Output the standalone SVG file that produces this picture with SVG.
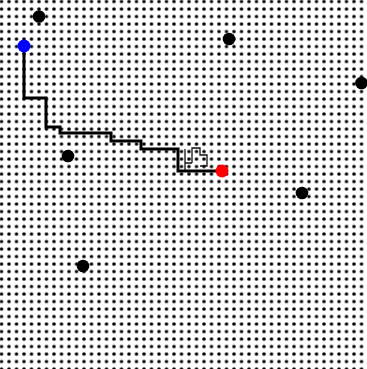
<svg xmlns="http://www.w3.org/2000/svg" width="367" height="369" viewBox="0 0 367 369">
  <defs>
    <pattern id="dots" x="5.25" y="-2.25" width="7.5" height="7.5" patternUnits="userSpaceOnUse">
      <circle cx="3.75" cy="3.75" r="1.75" fill="#000"/>
    </pattern>
    <style>
      .obs { fill: #000; }
      .route { fill: none; stroke: #000; stroke-width: 3; stroke-linejoin: miter; stroke-linecap: square; }
      .tree { fill: none; stroke: #111; stroke-width: 1.3; }
    </style>
  </defs>
  <rect width="367" height="369" fill="#fff"/>
  <rect width="367" height="369" fill="url(#dots)"/>
  <g id="connectors">
    <path class="tree" d="M185,149 V171 M185,163 H192 M192,163 V148 H200 V155 H207 V166 H200"/>
    <path class="route" d="M24,46 V98 H46 V127 H60 V133 H111 V141 H141 V149 H178 V171 H222"/>
  </g>
  <g id="obstacle-1"><circle class="obs" cx="39" cy="16.5" r="6.3"/></g>
  <g id="obstacle-2"><circle class="obs" cx="229" cy="39" r="6.3"/></g>
  <g id="obstacle-3"><circle class="obs" cx="361.5" cy="83" r="6.3"/></g>
  <g id="obstacle-4"><circle class="obs" cx="68" cy="156" r="6.3"/></g>
  <g id="obstacle-5"><circle class="obs" cx="302" cy="193" r="6.3"/></g>
  <g id="obstacle-6"><circle class="obs" cx="83" cy="266" r="6.3"/></g>
  <g id="start"><circle cx="24" cy="46" r="6.5" fill="#0000ff"/></g>
  <g id="goal"><circle cx="222" cy="171" r="6.5" fill="#ff0000"/></g>
</svg>
